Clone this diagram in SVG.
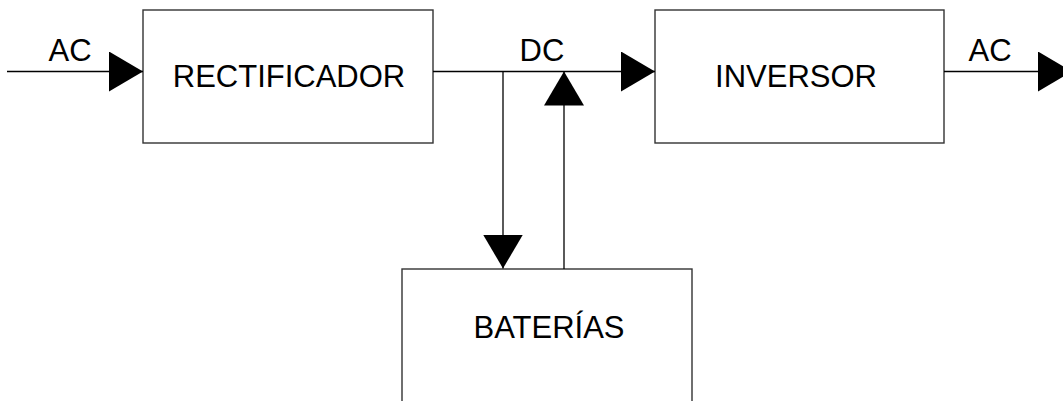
<svg xmlns="http://www.w3.org/2000/svg" width="1063" height="401" viewBox="0 0 1063 401">
  <style>
    .box { fill: #ffffff; stroke: #333333; stroke-width: 1.4; }
    .lbl { font-family: "Liberation Sans", Arial, sans-serif; font-size: 31px; fill: #000000; text-anchor: middle; }
    .wire { fill: none; stroke: #000000; stroke-width: 1.3; }
  </style>
  <defs>
    <marker id="tri" viewBox="0 0 34 40" markerWidth="34" markerHeight="40" refX="34" refY="20" orient="auto" markerUnits="userSpaceOnUse">
      <path d="M0,0 L34,20 L0,40 Z" fill="#000000"/>
    </marker>
  </defs>
  <rect x="0" y="0" width="1063" height="401" fill="#ffffff"/>
  <g id="rectificador">
    <rect class="box" x="143" y="10" width="290" height="133"/>
    <text class="lbl" x="289" y="87">RECTIFICADOR</text>
  </g>
  <g id="inversor">
    <rect class="box" x="655" y="10" width="289" height="133"/>
    <text class="lbl" x="796" y="87">INVERSOR</text>
  </g>
  <g id="baterias">
    <rect class="box" x="402" y="269" width="290" height="150"/>
    <text class="lbl" x="549" y="338">BATERÍAS</text>
  </g>
  <g id="connectors">
    <line class="wire" x1="7" y1="71.5" x2="143" y2="71.5" marker-end="url(#tri)"/>
    <line class="wire" x1="433" y1="71.5" x2="655" y2="71.5" marker-end="url(#tri)"/>
    <line class="wire" x1="503" y1="71.5" x2="503" y2="268.5" marker-end="url(#tri)"/>
    <line class="wire" x1="564" y1="269" x2="564" y2="71.5" marker-end="url(#tri)"/>
    <line class="wire" x1="944" y1="71.5" x2="1072" y2="71.5" marker-end="url(#tri)"/>
    <text class="lbl" x="70" y="61">AC</text>
    <text class="lbl" x="542" y="61">DC</text>
    <text class="lbl" x="990" y="61">AC</text>
  </g>
</svg>
